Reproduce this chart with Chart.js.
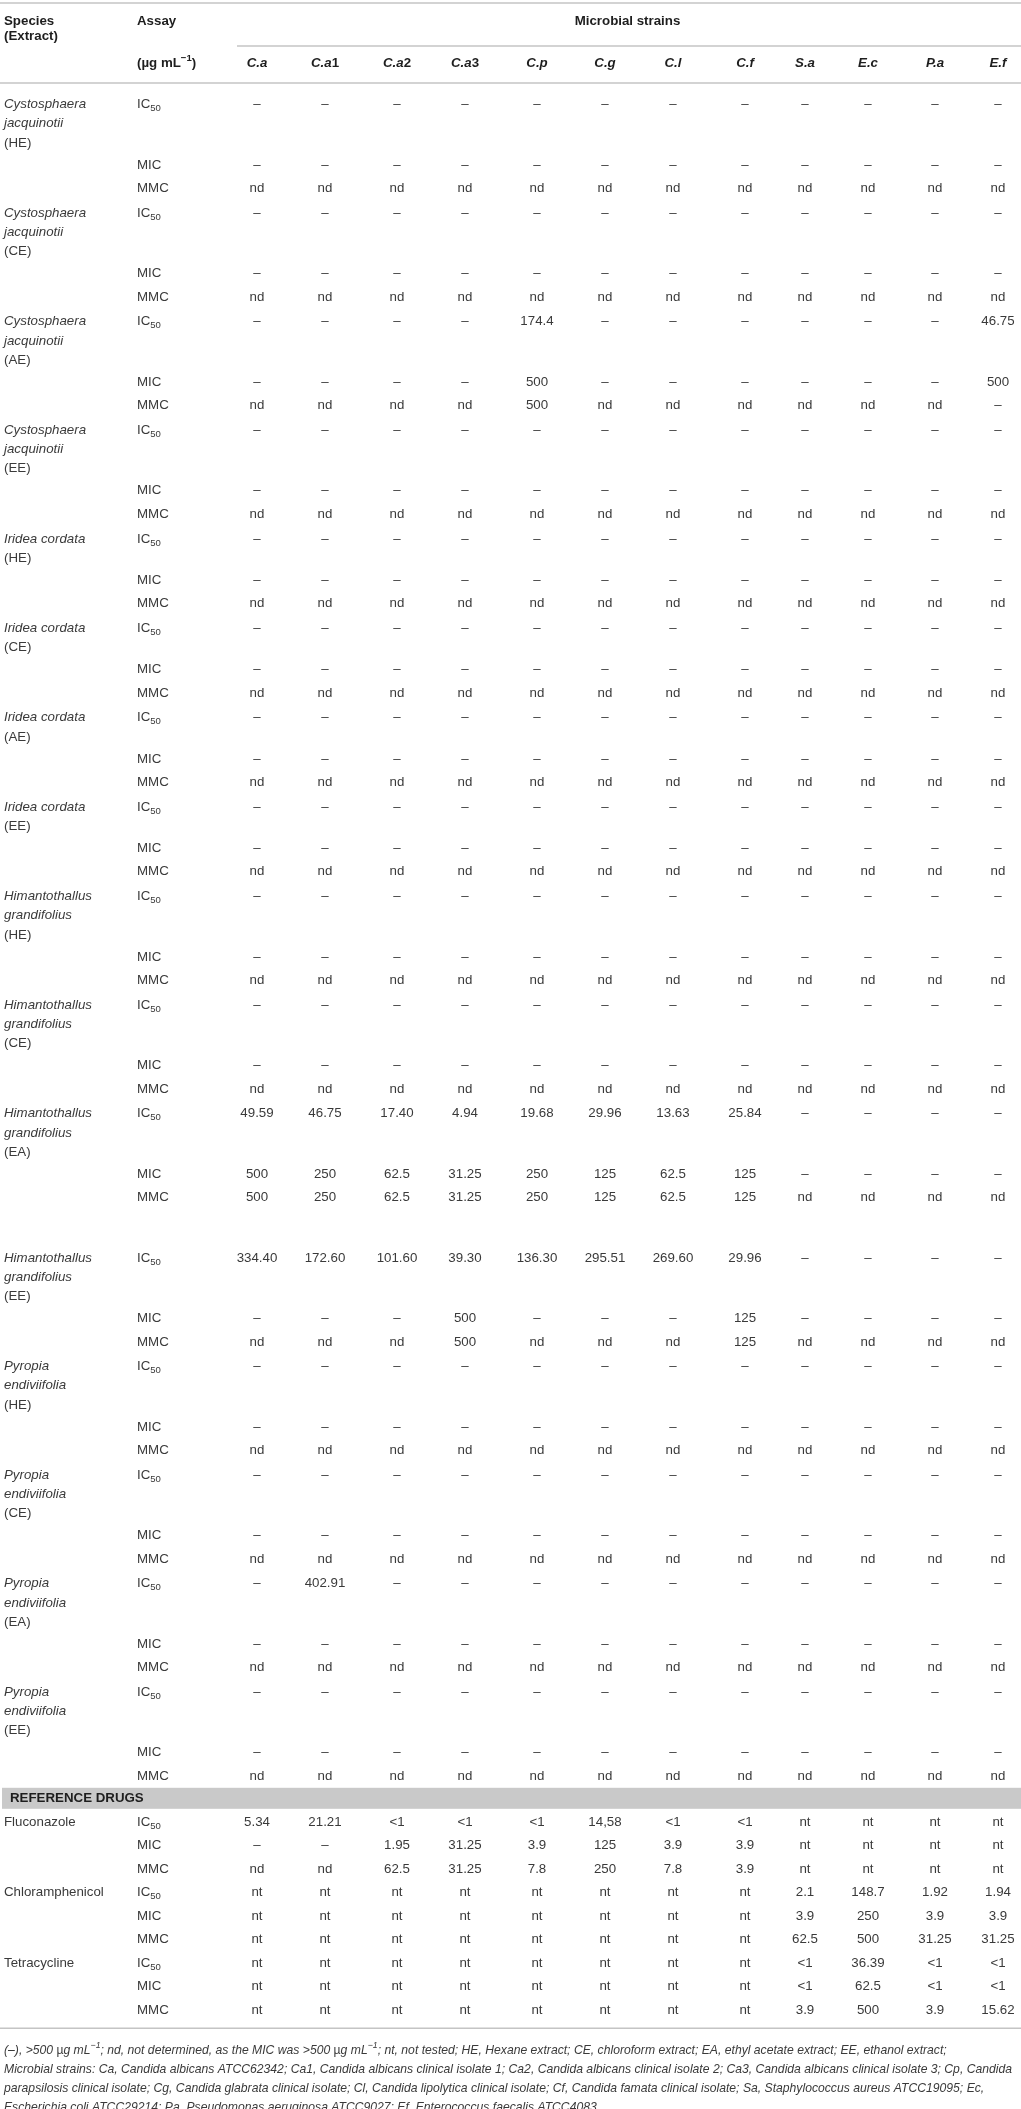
<!DOCTYPE html>
<html lang="en">
<head>
  <meta charset="UTF-8">
  <title>Antimicrobial activity of seaweed extracts</title>
  <script src="https://cdn.jsdelivr.net/npm/chart.js@4"></script>
  <style>
    html, body { margin: 0; padding: 0; background: #fff; }
    canvas { display: block; }
  </style>
</head>
<body>
  <canvas id="tbl" width="1021" height="2109"></canvas>

  <script>
    const strains = ['C.a', 'C.a1', 'C.a2', 'C.a3', 'C.p', 'C.g', 'C.l', 'C.f', 'S.a', 'E.c', 'P.a', 'E.f'];
    const assays = ['IC50', 'MIC', 'MMC'];

    const extractNames = [
      'Cystosphaera|jacquinotii|(HE)', 'Cystosphaera|jacquinotii|(CE)',
      'Cystosphaera|jacquinotii|(AE)', 'Cystosphaera|jacquinotii|(EE)',
      'Iridea cordata|(HE)', 'Iridea cordata|(CE)', 'Iridea cordata|(AE)', 'Iridea cordata|(EE)',
      'Himantothallus|grandifolius|(HE)', 'Himantothallus|grandifolius|(CE)',
      'Himantothallus|grandifolius|(EA)', 'Himantothallus|grandifolius|(EE)',
      'Pyropia|endiviifolia|(HE)', 'Pyropia|endiviifolia|(CE)',
      'Pyropia|endiviifolia|(EA)', 'Pyropia|endiviifolia|(EE)'
    ];

    const ic50Rows = [
      '– – – – – – – – – – – –',
      '– – – – – – – – – – – –',
      '– – – – 174.4 – – – – – – 46.75',
      '– – – – – – – – – – – –',
      '– – – – – – – – – – – –',
      '– – – – – – – – – – – –',
      '– – – – – – – – – – – –',
      '– – – – – – – – – – – –',
      '– – – – – – – – – – – –',
      '– – – – – – – – – – – –',
      '49.59 46.75 17.40 4.94 19.68 29.96 13.63 25.84 – – – –',
      '334.40 172.60 101.60 39.30 136.30 295.51 269.60 29.96 – – – –',
      '– – – – – – – – – – – –',
      '– – – – – – – – – – – –',
      '– 402.91 – – – – – – – – – –',
      '– – – – – – – – – – – –'
    ];

    const micRows = [
      '– – – – – – – – – – – –',
      '– – – – – – – – – – – –',
      '– – – – 500 – – – – – – 500',
      '– – – – – – – – – – – –',
      '– – – – – – – – – – – –',
      '– – – – – – – – – – – –',
      '– – – – – – – – – – – –',
      '– – – – – – – – – – – –',
      '– – – – – – – – – – – –',
      '– – – – – – – – – – – –',
      '500 250 62.5 31.25 250 125 62.5 125 – – – –',
      '– – – 500 – – – 125 – – – –',
      '– – – – – – – – – – – –',
      '– – – – – – – – – – – –',
      '– – – – – – – – – – – –',
      '– – – – – – – – – – – –'
    ];

    const mmcRows = [
      'nd nd nd nd nd nd nd nd nd nd nd nd',
      'nd nd nd nd nd nd nd nd nd nd nd nd',
      'nd nd nd nd 500 nd nd nd nd nd nd –',
      'nd nd nd nd nd nd nd nd nd nd nd nd',
      'nd nd nd nd nd nd nd nd nd nd nd nd',
      'nd nd nd nd nd nd nd nd nd nd nd nd',
      'nd nd nd nd nd nd nd nd nd nd nd nd',
      'nd nd nd nd nd nd nd nd nd nd nd nd',
      'nd nd nd nd nd nd nd nd nd nd nd nd',
      'nd nd nd nd nd nd nd nd nd nd nd nd',
      '500 250 62.5 31.25 250 125 62.5 125 nd nd nd nd',
      'nd nd nd 500 nd nd nd 125 nd nd nd nd',
      'nd nd nd nd nd nd nd nd nd nd nd nd',
      'nd nd nd nd nd nd nd nd nd nd nd nd',
      'nd nd nd nd nd nd nd nd nd nd nd nd',
      'nd nd nd nd nd nd nd nd nd nd nd nd'
    ];

    const drugNames = ['Fluconazole', 'Chloramphenicol', 'Tetracycline'];
    const drugIC50 = [
      '5.34 21.21 <1 <1 <1 14,58 <1 <1 nt nt nt nt',
      'nt nt nt nt nt nt nt nt 2.1 148.7 1.92 1.94',
      'nt nt nt nt nt nt nt nt <1 36.39 <1 <1'
    ];
    const drugMIC = [
      '– – 1.95 31.25 3.9 125 3.9 3.9 nt nt nt nt',
      'nt nt nt nt nt nt nt nt 3.9 250 3.9 3.9',
      'nt nt nt nt nt nt nt nt <1 62.5 <1 <1'
    ];
    const drugMMC = [
      'nd nd 62.5 31.25 7.8 250 7.8 3.9 nt nt nt nt',
      'nt nt nt nt nt nt nt nt 62.5 500 31.25 31.25',
      'nt nt nt nt nt nt nt nt 3.9 500 3.9 15.62'
    ];

    const footnoteLines = [
      [['(–), >500 ', 'fi'], ['µ', 'f'], ['g mL', 'fi'], ['−1', 'fsup'], ['; nd, not determined, as the MIC was >500 ', 'fi'], ['µ', 'f'], ['g mL', 'fi'], ['−1', 'fsup'], ['; nt, not tested; HE, Hexane extract; CE, chloroform extract; EA, ethyl acetate extract; EE, ethanol extract;', 'fi']],
      [['Microbial strains: Ca, Candida albicans ATCC62342; Ca1, Candida albicans clinical isolate 1; Ca2, Candida albicans clinical isolate 2; Ca3, Candida albicans clinical isolate 3; Cp, Candida', 'fi']],
      [['parapsilosis clinical isolate; Cg, Candida glabrata clinical isolate; Cl, Candida lipolytica clinical isolate; Cf, Candida famata clinical isolate; Sa, Staphylococcus aureus ATCC19095; Ec,', 'fi']],
      [['Escherichia coli ATCC29214; Pa, Pseudomonas aeruginosa ATCC9027; Ef, Enterococcus faecalis ATCC4083.', 'fi']]
    ];

    // ---- layout (units of the table grid, 1 unit = 1 px) ----
    const W = 1021, H = 2109;
    const colX = [257, 325, 397, 465, 537, 605, 673, 745, 805, 868, 935, 998];
    const SPECIES_X = 4, ASSAY_X = 137;
    const ROW1 = 104.5, LINE = 19.2, PITCH = 23.5, BLOCK_GAP = 24.7;
    const FONT = "'Liberation Sans', Arial, Helvetica, sans-serif";
    const FS = 13.3, FOOT_FS = 12.4;

    function assayParts(a) {
      return a === 'IC50' ? [['IC', 'r'], ['50', 'sub']] : [[a, 'r']];
    }

    const headPts = [];
    const labelPts = [];
    const cellPts = [];
    const rules = [];

    // header
    rules.push({ x0: 0, x1: W, y: 3 });
    headPts.push({ x: SPECIES_X, y: 21, parts: [['Species', 'b']], align: 'left' });
    headPts.push({ x: SPECIES_X, y: 36, parts: [['(Extract)', 'b']], align: 'left' });
    headPts.push({ x: ASSAY_X, y: 21, parts: [['Assay', 'b']], align: 'left' });
    headPts.push({ x: (colX[0] + colX[11]) / 2, y: 21, parts: [['Microbial strains', 'b']], align: 'center' });
    rules.push({ x0: 237, x1: W, y: 46 });
    headPts.push({ x: ASSAY_X, y: 63, parts: [['(µg mL', 'b'], ['−1', 'bsup'], [')', 'b']], align: 'left' });
    strains.forEach((s, c) => {
      const m = s.match(/^(.*?)(\d*)$/);
      const parts = [[m[1], 'bi']];
      if (m[2]) parts.push([m[2], 'b']);
      headPts.push({ x: colX[c], y: 63, parts, align: 'center' });
    });
    rules.push({ x0: 0, x1: W, y: 83 });

    // extract blocks
    let yy = ROW1;
    extractNames.forEach((name, g) => {
      if (g === 11) yy += 35.7;
      const lines = name.split('|');
      lines.forEach((t, i) => {
        labelPts.push({ x: SPECIES_X, y: yy + i * LINE, parts: [[t, t[0] === '(' ? 'r' : 'i']], align: 'left' });
      });
      const rowY = [yy, yy + 22 + (lines.length - 1) * LINE];
      rowY.push(rowY[1] + PITCH);
      [ic50Rows[g], micRows[g], mmcRows[g]].forEach((row, a) => {
        labelPts.push({ x: ASSAY_X, y: rowY[a], parts: assayParts(assays[a]), align: 'left' });
        row.split(' ').forEach((v, c) => {
          cellPts.push({ x: colX[c], y: rowY[a], parts: [[v, 'r']], align: 'center' });
        });
      });
      yy = rowY[2] + BLOCK_GAP;
    });

    // reference drugs
    const bandY = yy - BLOCK_GAP + 22;
    const band = { y0: bandY - 10.5, y1: bandY + 10.5 };
    headPts.push({ x: 10, y: bandY, parts: [['REFERENCE DRUGS', 'b']], align: 'left' });
    let dy = bandY + 24;
    drugNames.forEach((d, k) => {
      labelPts.push({ x: SPECIES_X, y: dy, parts: [[d, 'r']], align: 'left' });
      [drugIC50[k], drugMIC[k], drugMMC[k]].forEach((row, a) => {
        labelPts.push({ x: ASSAY_X, y: dy, parts: assayParts(assays[a]), align: 'left' });
        row.split(' ').forEach((v, c) => {
          cellPts.push({ x: colX[c], y: dy, parts: [[v, 'r']], align: 'center' });
        });
        dy += PITCH;
      });
    });
    const bottomRule = dy - PITCH + 18;
    rules.push({ x0: 0, x1: W, y: bottomRule });

    // footnote
    footnoteLines.forEach((parts, i) => {
      labelPts.push({ x: SPECIES_X, y: bottomRule + 22 + i * 19.1, parts, align: 'left', foot: true });
    });

    // ---- rich text drawing ----
    function fontFor(style) {
      switch (style) {
        case 'b': return `bold ${FS}px ${FONT}`;
        case 'bi': return `italic bold ${FS}px ${FONT}`;
        case 'i': return `italic ${FS}px ${FONT}`;
        case 'sub': return `${FS * 0.72}px ${FONT}`;
        case 'bsup': return `bold ${FS * 0.72}px ${FONT}`;
        case 'fi': return `italic ${FOOT_FS}px ${FONT}`;
        case 'f': return `${FOOT_FS}px ${FONT}`;
        case 'fsup': return `italic ${FOOT_FS * 0.72}px ${FONT}`;
        default: return `${FS}px ${FONT}`;
      }
    }
    function shiftFor(style) {
      if (style === 'sub') return FS * 0.3;
      if (style === 'bsup') return -FS * 0.38;
      if (style === 'fsup') return -FOOT_FS * 0.38;
      return 0;
    }
    function widthOf(ctx, parts) {
      return parts.reduce((w, [t, s]) => { ctx.font = fontFor(s); return w + ctx.measureText(t).width; }, 0);
    }
    function drawRich(ctx, parts, x, y, align, squeeze) {
      ctx.save();
      ctx.translate(x, y);
      ctx.scale(squeeze, 1);
      let cx = align === 'center' ? -widthOf(ctx, parts) / 2 : 0;
      parts.forEach(([t, s]) => {
        ctx.font = fontFor(s);
        ctx.fillText(t, cx, shiftFor(s));
        cx += ctx.measureText(t).width;
      });
      ctx.restore();
    }

    const tablePlugin = {
      id: 'tableText',
      beforeDatasetsDraw(chart) {
        const { ctx, scales: { x, y } } = chart;
        ctx.save();
        ctx.fillStyle = '#c9c9c9';
        ctx.fillRect(x.getPixelForValue(2), y.getPixelForValue(band.y0),
          x.getPixelForValue(W) - x.getPixelForValue(2), y.getPixelForValue(band.y1) - y.getPixelForValue(band.y0));
        ctx.strokeStyle = '#c4c4c4';
        ctx.lineWidth = 1.6;
        rules.forEach(r => {
          ctx.beginPath();
          ctx.moveTo(x.getPixelForValue(r.x0), y.getPixelForValue(r.y));
          ctx.lineTo(x.getPixelForValue(r.x1), y.getPixelForValue(r.y));
          ctx.stroke();
        });
        ctx.restore();
      },
      afterDatasetsDraw(chart) {
        const { ctx } = chart;
        ctx.font = fontFor('fi');
        const footSqueeze = 1008 / widthOf(ctx, footnoteLines[1]);
        ctx.save();
        ctx.textBaseline = 'middle';
        chart.data.datasets.forEach((ds, di) => {
          ctx.fillStyle = ds.textColor;
          chart.getDatasetMeta(di).data.forEach((pt, i) => {
            const d = ds.data[i];
            drawRich(ctx, d.parts, pt.x, pt.y, d.align, d.foot ? footSqueeze : 1);
          });
        });
        ctx.restore();
      }
    };

    const textSet = (label, data, textColor) => ({
      label, data, textColor,
      pointRadius: 0, pointHoverRadius: 0, showLine: false, clip: false
    });

    new Chart(document.getElementById('tbl'), {
      type: 'scatter',
      data: {
        datasets: [
          textSet('header', headPts, '#1e1e1e'),
          textSet('labels', labelPts, '#3a3a3a'),
          textSet('cells', cellPts, '#3a3a3a')
        ]
      },
      options: {
        responsive: false,
        animation: false,
        events: [],
        layout: { padding: 0 },
        scales: {
          x: { type: 'linear', min: 0, max: W, display: false },
          y: { type: 'linear', min: 0, max: H, reverse: true, display: false }
        },
        plugins: { legend: { display: false }, tooltip: { enabled: false } }
      },
      plugins: [tablePlugin]
    });
  </script>
</body>
</html>
